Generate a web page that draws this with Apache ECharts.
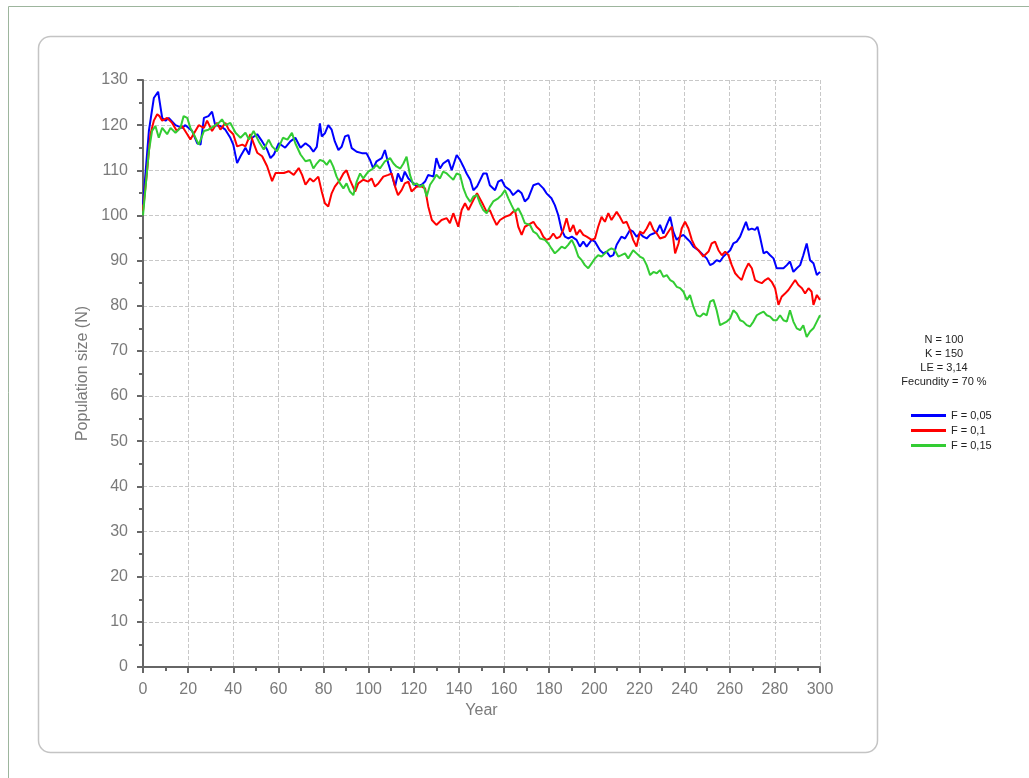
<!DOCTYPE html>
<html>
<head>
<meta charset="utf-8">
<script src="https://cdn.jsdelivr.net/npm/echarts@6/dist/echarts.min.js"></script>
<style>
  html, body { margin: 0; padding: 0; background: #fff; }
  #chart { width: 1029px; height: 778px; }
</style>
</head>
<body>
<div id="chart"></div>
<script>
// [year, population]
const seriesNames = ['F = 0,05', 'F = 0,1', 'F = 0,15'];
const seriesColors = ['#0000ff', '#ff0000', '#33cc33'];
const infoLines = ['N = 100', 'K = 150', 'LE = 3,14', 'Fecundity = 70 %'];

const blueData = [
  [0,102.4],[2.6,118.7],[4.8,126],[6.7,127.4],[8.5,121.6],[10,121],[11.4,121.6],[14.4,120],[17.3,119.4],[18.8,120],
  [21.8,118.7],[24,116],[25.5,115.7],[27,121.6],[29,122],[30.6,123],[32,120],[34.3,119.8],[36.5,119],[38.7,117.2],
  [40,115.7],[41.7,111.6],[43.2,113.1],[45.4,115],[47,113.5],[48.4,117.2],[50.6,118],[52.8,116.4],[55,114.6],[56.5,112.7],
  [58,113.5],[60.2,116],[63,115],[65.3,116.4],[67.5,117.2],[69.8,115],[72,116],[74,115.2],[75.5,114.1],[77,115.2],
  [78.4,120.4],[79.2,117.5],[80.6,118.2],[82.1,120],[83.6,119],[85,116.4],[86.6,114.5],[88,115.2],[89.5,117.5],[91,117.8],
  [92.5,114.9],[94.7,114.1],[97,113.8],[99,113.8],[100.6,112.3],[102,110.4],[103.5,112],[105.8,112.7],[107.2,114.5],[108.7,111.5],
  [110.2,109],[111.7,106.4],[113,109.3],[114.6,107.5],[116,109.7],[117.6,108.2],[119,107.5],[121.3,106.4],[123.5,106.8],[125,107.5],
  [126.4,109],[128.7,108.6],[130,112.7],[131.6,110.4],[133,111.5],[135.3,112.3],[136.8,110],[139,113.4],[140.5,112.3],[142,110.8],
  [143.4,109.3],[145,107.9],[146.4,105.6],[148,106.4],[150.8,109.3],[152.3,109.3],[153.7,106.7],[156,105.6],[157.4,107.5],[158.9,107.9],
  [160.4,106.4],[162.6,105.6],[164,104.5],[166.3,105.6],[167.8,104.9],[169.2,103.1],[170.7,103.8],[173,106.7],[175.2,107.1],[177.4,106],
  [178.8,104.9],[181,103.8],[182.5,102.3],[184,100.1],[185.5,96.8],[187,95.3],[188.4,94.9],[190,95.3],[192.1,94.6],[193.6,93.1],
  [195.1,94.2],[196.6,93.1],[198.8,94.6],[200.3,94.2],[202.5,92.3],[204,91.6],[205.4,92],[207,90.9],[208.4,91.2],[209.9,93.5],
  [212,95.3],[213.6,94.9],[215.8,96.8],[217.2,96.4],[218.7,95.3],[220.2,96],[221.7,95.3],[223.2,94.9],[224.7,95.7],[226.2,96],
  [227.7,96.4],[229.1,97.9],[230.6,96],[232.1,97.9],[233.6,99.7],[235,96.4],[236.5,94.6],[238,95.3],[239.5,95.7],[241,94.9],
  [242.4,94.2],[243.9,93.1],[246.1,92.3],[248.3,91.2],[249.8,90.5],[251.3,89],[252.8,89.4],[254.2,90.1],[255.7,89.8],[257.2,90.9],
  [258.7,91.6],[260.2,92.3],[261.6,93.8],[263.1,94.2],[264.6,95.3],[266,97.1],[267.2,98.6],[268.3,96.8],[269.8,97.1],[271.2,96.8],
  [272.3,97.5],[273.4,95.3],[275,91.6],[276.4,92],[277.9,91.2],[279.4,90.5],[280.8,88.3],[282.3,88.3],[283.8,88.3],[285.3,89],
  [286.7,89.8],[288.2,87.5],[289.7,88.3],[291.2,89],[292.6,91.2],[294.1,93.8],[295.6,90.1],[297.1,89.4],[298.6,86.8],[300,87.5]
];

const redData = [
  [0,101],[1.8,109.8],[3.3,118],[4.8,121],[6.3,122.4],[7.3,122],[8.5,121],[10.7,121.6],[12.9,120.5],[15,118.7],
  [17.3,119.8],[19.6,118],[21,116.8],[23.2,118.7],[24.7,120],[27,119.4],[28.4,121],[30.6,118.7],[32.8,120.5],[34.3,119],
  [36.5,120.5],[38,119],[40,118],[41.7,115.3],[44,115.7],[45.4,115.3],[47.6,118],[49,116],[50.6,113.9],[52.8,113.1],
  [55,110.9],[57.2,107.6],[58.7,109.4],[60.2,109.4],[62.4,109.4],[64.6,109.8],[66.8,109],[69,110.5],[70.5,109],[72,106.8],
  [74,108.2],[75.5,107.5],[77.7,108.6],[79.2,105.3],[80.6,102.7],[82.1,102],[83.6,104.9],[85,106.4],[87.3,107.9],[88.8,109.3],
  [90.2,110],[91.7,107.9],[94,105.3],[95.4,107.1],[97.6,107.9],[99.8,107.5],[101.3,108.2],[102.8,106.4],[104.3,107.1],[106.5,108.6],
  [108.7,109],[110.2,109.3],[111.7,106.4],[113,104.5],[114.6,105.6],[116,107.1],[117.6,107.5],[119,105.3],[121.3,106.4],[123.5,106.4],
  [125,106],[126.4,102],[128,99],[130,97.9],[132.3,99],[134.6,99.4],[136,98.3],[137.5,100.5],[139.7,97.5],[141.2,101.2],
  [142.7,102.7],[144.2,101.2],[146.4,103.4],[148,104.9],[150.8,102.3],[152.3,100.8],[153.7,101.2],[155.2,99.4],[156.7,97.9],[158.2,99],
  [160.4,99.7],[162.6,100.1],[164.8,101.2],[166.3,97.5],[167.8,95.7],[169.2,97.5],[170.7,97.9],[173,98.6],[174.4,97.5],[175.9,96.8],
  [177.4,95.3],[178.8,94.6],[180.3,94.9],[181.8,96],[183.3,94.9],[184.8,95.3],[186.2,96.8],[187.7,99.4],[189.2,96.4],[190.7,97.9],
  [192.1,95.7],[193.6,96.8],[195.1,95.7],[196.6,95.3],[198.8,94.6],[200.3,94.9],[201.7,97.5],[203.2,99.7],[204.7,98.6],[206.2,100.5],
  [207.6,99],[209.9,100.8],[211.3,99.7],[212.8,98.3],[214.3,98.6],[215.8,96.8],[217.2,94.6],[218.7,93.1],[220.2,96.4],[221.7,96],
  [223.2,97.1],[224.7,98.6],[226.2,96.8],[227.7,96],[229.1,94.9],[231.4,95.3],[232.8,96.4],[234.3,97.5],[235.8,91.6],[237.3,93.8],
  [238.7,97.1],[240.2,98.6],[241.7,97.1],[243.2,94.6],[244.6,93.1],[246.1,92.3],[248.3,90.9],[250.6,92],[252,93.8],[253.5,94.2],
  [255,92.3],[256.5,91.2],[258,92],[259.4,91.2],[260.9,89],[262.4,87.2],[263.8,86.4],[265.3,85.7],[266.8,87.9],[268.3,89.4],
  [269.8,88.3],[271.2,85.7],[272.7,85.3],[274.2,85],[275.7,85.7],[277.1,86.1],[278.6,85.3],[280.1,83.9],[281.6,80.2],[283,82],
  [284.5,82.7],[286,83.5],[287.5,84.6],[289,85.7],[290.4,84.6],[292,83.9],[293.4,82.7],[294.9,83.9],[296.3,83.1],[297.1,80.2],
  [298.6,82.4],[300,81.3]
];

const greenData = [
  [0,100],[2.6,114.2],[4,118.7],[5.5,119.8],[7,117.2],[8.5,119.4],[10.7,118],[12.2,119.4],[14.4,118.3],[16.6,119.4],
  [18,122],[19.6,121.6],[21,119.4],[22.5,118],[24.7,115.7],[27,118.7],[29,119],[31.4,119.8],[33.6,120.5],[35,121.3],
  [36.5,120],[38.7,120.5],[41,118.3],[43.2,117.2],[45.4,118.3],[47,116.8],[49,118.7],[51.3,116.4],[53.5,114.6],[55.7,116.8],
  [57.2,115.3],[59.4,114.2],[62,117.2],[64,116.8],[66,118.3],[67.5,116],[69.8,113.5],[72,112],[74,112.3],[75.5,110.4],
  [77,111.5],[78.4,112.3],[80,112],[81.4,111.2],[82.9,112.3],[84.3,110.8],[85.8,108.6],[87.3,107.1],[88.8,106],[90.2,107.1],
  [91.7,105.3],[93.2,104.5],[94.7,107.5],[96.2,109.3],[97.6,108.2],[99.8,109.7],[102,110.4],[103.5,111.2],[105,110.4],[107.2,112],
  [109.5,112.7],[111,111.5],[112.4,110.8],[114,110.4],[115.4,111.5],[116.8,113],[118.3,109],[119.8,106.8],[121.3,107.1],[122.7,106.4],
  [124.2,106.8],[125.7,104.2],[127.2,106.8],[128.7,107.9],[130,109],[131.6,108.2],[133,109.7],[134.6,109.3],[136,108.6],[137.5,107.9],
  [139,109.3],[140.5,109],[142,106],[143.4,104.2],[145,103],[146.4,104.2],[148,104.5],[149.3,102.7],[150.8,101.2],[152.3,100.5],
  [153.7,101.9],[155.2,103.1],[157.4,103.8],[158.9,104.5],[160.4,105.6],[161.9,103.8],[163.3,102.3],[164.8,100.8],[166.3,101.6],[167.8,100.1],
  [169.2,98.3],[171.5,97.9],[173,96.4],[174.4,96],[175.9,94.9],[178.1,94.6],[179.6,93.8],[181,92.7],[182.5,91.6],[184,92.3],
  [185.5,93.1],[187,92.7],[188.4,93.5],[190,94.6],[191.4,93.1],[192.9,90.9],[194.4,90.1],[195.8,89],[197.3,88.3],[198.8,89.4],
  [200.3,90.5],[201.7,91.2],[203.2,90.9],[204.7,91.6],[206.2,92.3],[207.6,92.7],[209.1,92.3],[210.6,90.9],[212,91.2],[213.6,91.6],
  [215,90.5],[217.2,92.3],[218.7,91.6],[220.2,90.9],[221.7,90.5],[223.2,89],[224.7,86.8],[226.2,87.5],[227.7,87.2],[229.1,87.9],
  [230.6,86.4],[232.1,86.8],[233.6,85.7],[235,85.3],[236.5,84.2],[238,83.9],[239.5,83.1],[241,81.3],[242.4,82.4],[243.9,79.8],
  [245.4,77.9],[246.9,77.6],[248.3,78.3],[249.8,77.9],[251.3,80.9],[252.8,81.3],[254.2,79],[255.7,75.7],[257.2,76.1],[258.7,76.5],
  [260.2,77.2],[261.6,79],[263.1,78.3],[264.6,76.8],[266,76.5],[267.5,75.7],[269,75.4],[270.5,76.5],[272,77.9],[273.4,78.3],
  [275,78.7],[276.4,77.9],[277.9,77.6],[279.4,76.8],[280.8,76.8],[282.3,77.9],[283.8,76.8],[285.3,76.5],[286.7,79],[288.2,76.5],
  [289.7,75],[291.2,74.6],[292.6,75.7],[294.1,73.1],[295.6,74.3],[297.1,75],[298.6,76.5],[300,77.9]
];

const chart = echarts.init(document.getElementById('chart'), null, { renderer: 'canvas' });

const axisColor = '#666';
const labelColor = '#7a7a7a';
const fontFamily = '"Liberation Sans", Arial, sans-serif';

const allData = [blueData, redData, greenData];

const option = {
  animation: false,
  backgroundColor: '#fff',
  textStyle: { fontFamily: fontFamily },
  grid: { left: 143, right: 209, top: 80, bottom: 111 },
  graphic: [
    // outer frame
    { type: 'rect', shape: { x: 8.5, y: 6.5, width: 1040, height: 800 },
      style: { fill: 'none', stroke: '#9db59d', lineWidth: 1 }, silent: true, z: -10 },
    // rounded panel
    { type: 'rect', shape: { x: 38.5, y: 36.5, width: 839, height: 716, r: 12 },
      style: { fill: 'none', stroke: '#c4c4c4', lineWidth: 1.5 }, silent: true, z: -10 },
    // parameters above the legend
    { type: 'text', x: 944, y: 333, silent: true,
      style: { text: infoLines.join('\n'), textAlign: 'center', textVerticalAlign: 'top',
               font: '11px ' + fontFamily, fill: '#222', lineHeight: 14 } }
  ],
  legend: {
    orient: 'vertical',
    left: 906,
    top: 405,
    itemWidth: 35,
    itemHeight: 3,
    itemGap: 4,
    icon: 'rect',
    data: seriesNames,
    textStyle: { fontSize: 11, color: '#222', fontFamily: fontFamily }
  },
  xAxis: {
    type: 'value',
    min: 0, max: 300, interval: 20,
    name: 'Year',
    nameLocation: 'middle',
    nameGap: 32,
    nameTextStyle: { color: labelColor, fontSize: 16 },
    axisLine: { show: true, onZero: false, lineStyle: { color: axisColor, width: 2 } },
    axisTick: { show: true, length: 6, lineStyle: { color: axisColor, width: 2 } },
    minorTick: { show: true, splitNumber: 2, length: 4, lineStyle: { color: axisColor, width: 2 } },
    axisLabel: { color: labelColor, fontSize: 16, margin: 15 },
    splitLine: { show: true, lineStyle: { color: '#c8c8c8', type: 'dashed', width: 1 } }
  },
  yAxis: {
    type: 'value',
    min: 0, max: 130, interval: 10,
    name: 'Population size (N)',
    nameLocation: 'middle',
    nameGap: 46,
    nameTextStyle: { color: labelColor, fontSize: 16 },
    axisLine: { show: true, onZero: false, lineStyle: { color: axisColor, width: 2 } },
    axisTick: { show: true, length: 6, lineStyle: { color: axisColor, width: 2 } },
    minorTick: { show: true, splitNumber: 2, length: 4, lineStyle: { color: axisColor, width: 2 } },
    axisLabel: { color: labelColor, fontSize: 16, margin: 15 },
    splitLine: { show: true, lineStyle: { color: '#c8c8c8', type: 'dashed', width: 1 } }
  },
  series: seriesNames.map((name, i) => ({
    name: name,
    type: 'line',
    data: allData[i],
    showSymbol: false,
    symbol: 'none',
    color: seriesColors[i],
    lineStyle: { color: seriesColors[i], width: 2 }
  }))
};

chart.setOption(option);
</script>
</body>
</html>
